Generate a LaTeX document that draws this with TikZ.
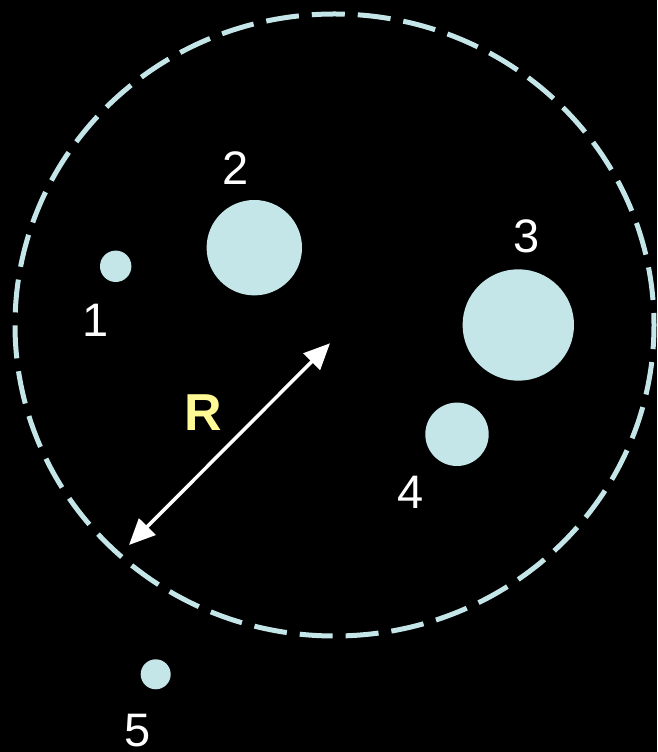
\documentclass[tikz,border=0pt]{standalone}
\usepackage{fontspec}
\setmainfont{Liberation Sans}
\usetikzlibrary{arrows.meta}
\definecolor{dotcyan}{RGB}{196,230,232}
\definecolor{ryellow}{RGB}{255,250,150}
\tikzset{
  dot/.style={circle, fill=dotcyan, draw=none, inner sep=0pt, minimum size=#1},
  numlabel/.style={text=white, inner sep=0pt, font=\fontsize{47}{50}\selectfont},
  rlabel/.style={text=ryellow, inner sep=0pt, font=\fontsize{52}{56}\selectfont\bfseries},
  boundary/.style={draw=dotcyan, line width=5pt, dash pattern=on 33pt off 13pt, dash phase=21pt},
  radius arrow/.style={draw=white, line width=3.5pt, {Triangle[length=26pt,width=23pt]}-{Triangle[length=26pt,width=23pt]}}
}
\begin{document}
\begin{tikzpicture}[x=1pt,y=1pt]
\fill[black] (0,0) rectangle (657,752);
\useasboundingbox (0,0) rectangle (657,752);
\coordinate (center) at (334.5,427);
\draw[boundary] (center) ellipse [x radius=319.5, y radius=311];
\node[dot=31.4pt] (c1) at (115.7,485.7) {};
\node[dot=95.4pt] (c2) at (254.3,504.3) {};
\node[dot=111.4pt] (c3) at (518.3,427) {};
\node[dot=63.4pt] (c4) at (457,317.7) {};
\node[dot=30pt] (c5) at (155.7,77.7) {};
\node[numlabel] (l1) at (96,432) {1};
\node[numlabel] (l2) at (235.7,584.2) {2};
\node[numlabel] (l3) at (526.7,516) {3};
\node[numlabel] (l4) at (411,260) {4};
\node[numlabel] (l5) at (138,21) {5};
\node[rlabel] (r) at (203,339) {R};
\coordinate (a1) at (129,207);
\coordinate (a2) at (330,408.7);
\draw[radius arrow] (a1) -- (a2);
\end{tikzpicture}
\end{document}
